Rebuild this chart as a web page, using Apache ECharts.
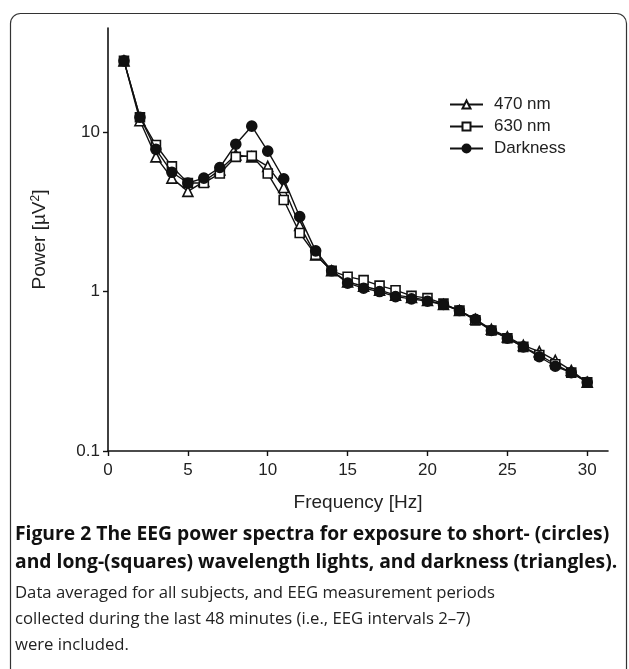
<!DOCTYPE html>
<html>
<head>
<meta charset="utf-8">
<script src="https://cdn.jsdelivr.net/npm/echarts@6/dist/echarts.min.js"></script>
<style>html,body{margin:0;padding:0;background:#fff}#c{width:629px;height:669px}</style>
</head>
<body>
<div id="c"></div>
<script>
const freqs = [1,2,3,4,5,6,7,8,9,10,11,12,13,14,15,16,17,18,19,20,21,22,23,24,25,26,27,28,29,30];
const nm470 = [28,11.8,7.0,5.15,4.25,4.9,5.8,7.2,7.0,6.1,4.5,2.6,1.7,1.35,1.15,1.08,1.02,0.95,0.92,0.88,0.83,0.76,0.67,0.58,0.52,0.46,0.42,0.37,0.32,0.27];
const nm630 = [28,12.4,8.3,6.1,4.8,4.8,5.5,7.0,7.1,5.5,3.75,2.33,1.7,1.35,1.24,1.18,1.09,1.02,0.94,0.91,0.84,0.76,0.66,0.57,0.51,0.45,0.4,0.35,0.31,0.27];
const darkness = [28,12.4,7.8,5.6,4.8,5.15,6.0,8.4,10.9,7.6,5.1,2.95,1.8,1.35,1.13,1.05,1.0,0.93,0.9,0.87,0.83,0.76,0.67,0.57,0.51,0.45,0.39,0.34,0.31,0.27];
const yTicks = [0.1,1,10];
const xTicks = [0,5,10,15,20,25,30];
const seriesNames = ['470 nm','630 nm','Darkness'];
const captionBold = ['Figure 2 The EEG power spectra for exposure to short- (circles)','and long-(squares) wavelength lights, and darkness (triangles).'];
const captionNormal = ['Data averaged for all subjects, and EEG measurement periods','collected during the last 48 minutes (i.e., EEG intervals 2\u20137)','were included.'];

const chart = echarts.init(document.getElementById('c'), null, {renderer:'canvas'});
const pair = arr => arr.map((v,i)=>[freqs[i], v]);
const FONT = '"Liberation Sans", Arial, sans-serif';
const CAPFONT = '"Open Sans", "Noto Sans", sans-serif';
const mk = (name, data, symbol, filled, size) => ({
  name, type:'line', data: pair(data), symbol, symbolSize:size,
  lineStyle:{color:'#111', width:1.4},
  itemStyle:{color: filled ? '#111' : '#fff', borderColor:'#111', borderWidth:1.6},
  emphasis:{disabled:true}, animation:false, z: filled?4:3
});
const graphics = [
  {type:'rect', shape:{x:10.5,y:13.5,width:616,height:665,r:10}, style:{fill:'none', stroke:'#333', lineWidth:1.2}, silent:true}
];
captionBold.forEach((t,i)=>graphics.push({type:'text', left:15, top:525+i*28, style:{text:t, font:'bold 19.3px '+CAPFONT, fill:'#111'}}));
captionNormal.forEach((t,i)=>graphics.push({type:'text', left:15, top:585+i*26, style:{text:t, font:'16.7px '+CAPFONT, fill:'#222'}}));

chart.setOption({
  animation:false,
  backgroundColor:'#fff',
  grid:{left:108, top:28, right:21, bottom:218, containLabel:false},
  legend:{
    data: seriesNames, orient:'vertical', left:444, top:91, itemWidth:33, itemHeight:10, itemGap:5,
    textStyle:{fontFamily:FONT, fontSize:17, color:'#222', padding:[0,0,0,6]}
  },
  xAxis:{
    type:'value', min:0, max:31.3, interval:5,
    name:'Frequency [Hz]', nameLocation:'middle', nameGap:42,
    nameTextStyle:{fontFamily:FONT, fontSize:19, color:'#222'},
    axisLine:{onZero:false, lineStyle:{color:'#111', width:1.6}},
    axisTick:{show:true, length:5, inside:false, customValues: xTicks, lineStyle:{color:'#111', width:1.4}},
    axisLabel:{customValues: xTicks, fontFamily:FONT, fontSize:17, color:'#222', margin:11},
    splitLine:{show:false}
  },
  yAxis:{
    type:'log', logBase:10, min:0.1, max:45,
    name:'Power [\u00b5V{s|2}]', nameLocation:'middle', nameGap:58, nameRotate:90,
    nameTextStyle:{fontFamily:FONT, fontSize:19, color:'#222', rich:{s:{fontSize:12, verticalAlign:'top', padding:[0,0,8,0], fontFamily:FONT, color:'#222'}}},
    axisLine:{show:true, lineStyle:{color:'#111', width:1.6}},
    axisTick:{show:true, length:5, customValues: yTicks, lineStyle:{color:'#111', width:1.4}},
    axisLabel:{customValues: yTicks, fontFamily:FONT, fontSize:17, color:'#222', margin:8, formatter:v=>String(v)},
    minorTick:{show:false}, splitLine:{show:false}
  },
  graphic: graphics,
  series:[
    mk(seriesNames[0], nm470, 'triangle', false, 10),
    mk(seriesNames[1], nm630, 'rect', false, 9),
    mk(seriesNames[2], darkness, 'circle', true, 10)
  ]
});
</script>
</body>
</html>
